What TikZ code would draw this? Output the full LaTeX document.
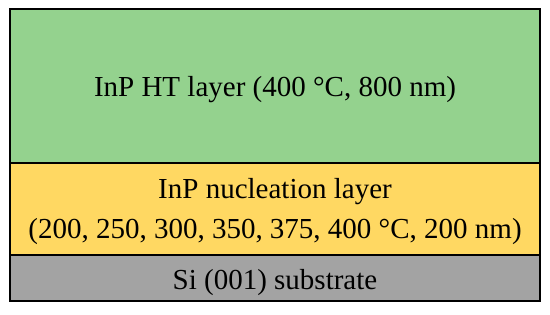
\documentclass[tikz,border=0pt]{standalone}
\usepackage{fontspec}
\setmainfont{Liberation Serif}
\definecolor{htgreen}{RGB}{148,210,142}
\definecolor{nucyellow}{RGB}{255,216,98}
\definecolor{subgray}{RGB}{163,163,163}
\tikzset{
  layer/.style={draw=black, line width=1.6pt},
  lbl/.style={font=\fontsize{29}{34}\selectfont, text=black, inner sep=0pt, anchor=base}
}
\begin{document}
\begin{tikzpicture}[x=1pt,y=-1pt]
\useasboundingbox (0,0) rectangle (550,314);
\fill[htgreen] (10,9) rectangle (540,163);
\fill[nucyellow] (10,163) rectangle (540,255);
\fill[subgray] (10,255) rectangle (540,301);
\draw[layer] (10,163) -- (540,163);
\draw[layer] (10,255) -- (540,255);
\draw[layer] (10,9) rectangle (540,301);
\node[lbl] (ht) at (275,96.7) {InP HT layer (400 °C, 800 nm)};
\node[lbl] (nuc1) at (275,198) {InP nucleation layer};
\node[lbl] (nuc2) at (275,238) {(200, 250, 300, 350, 375, 400 °C, 200 nm)};
\node[lbl] (sub) at (275,289) {Si (001) substrate};
\end{tikzpicture}
\end{document}
